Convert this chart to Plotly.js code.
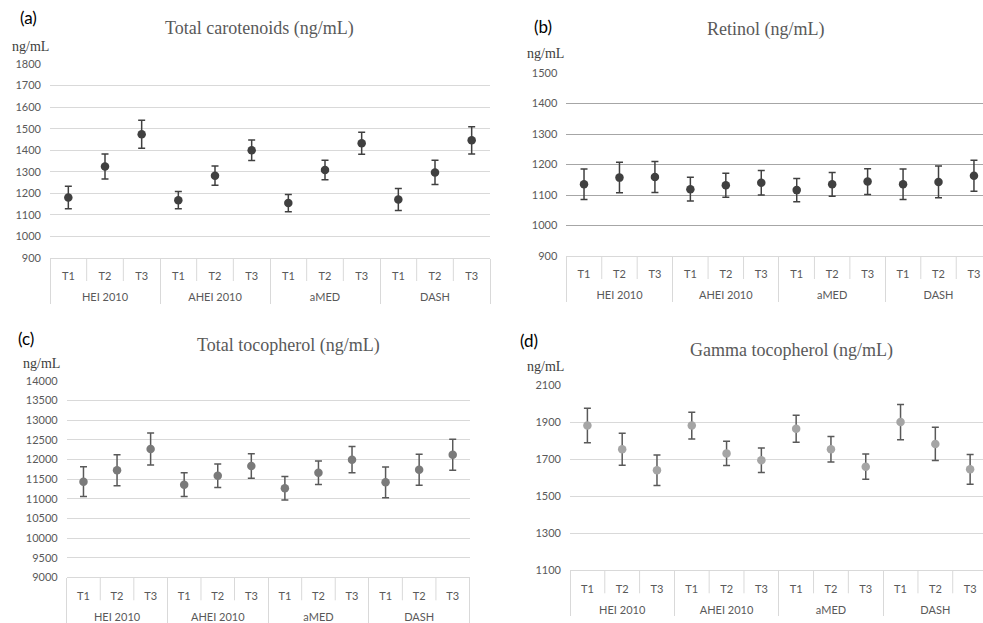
<!DOCTYPE html>
<html>
<head>
<meta charset="utf-8">
<script src="https://cdn.plot.ly/plotly-3.0.1.min.js"></script>
<style>html,body{margin:0;padding:0;background:#fff;}#chart{width:983px;height:623px;}</style>
</head>
<body>
<div id="chart"></div>
<script>
// ---- data ----
const groups = ["HEI 2010", "AHEI 2010", "aMED", "DASH"];
const tiers = ["T1", "T2", "T3"];

const carotenoidMean = [1181, 1324, 1474, 1168, 1282, 1400, 1155, 1308, 1432, 1171, 1297, 1446];
const carotenoidErr  = [52, 58, 65, 40, 45, 48, 40, 45, 51, 51, 56, 63];

const retinolMean = [1135, 1157, 1159, 1119, 1132, 1140, 1116, 1135, 1144, 1135, 1143, 1163];
const retinolErr  = [50, 50, 51, 39, 39, 40, 38, 39, 42, 50, 52, 51];

const tocopherolMean = [11436, 11725, 12268, 11360, 11589, 11835, 11267, 11665, 11997, 11419, 11742, 12124];
const tocopherolErr  = [378, 395, 405, 300, 300, 315, 300, 300, 335, 390, 395, 395];

const gammaMean = [1881, 1753, 1640, 1881, 1731, 1694, 1864, 1753, 1659, 1900, 1782, 1645];
const gammaErr  = [93, 86, 82, 72, 66, 66, 73, 69, 68, 95, 90, 80];

const panelTitles = ["Total carotenoids (ng/mL)", "Retinol (ng/mL)", "Total tocopherol (ng/mL)", "Gamma tocopherol (ng/mL)"];
const panelLetters = ["(a)", "(b)", "(c)", "(d)"];
const unitLabel = "ng/mL";

// ---- build ----
const W = 983, H = 623;
const nCat = groups.length * tiers.length;
const xGroup = [], xTier = [];
// a blank second line under each tier label gives the group row its spacing
groups.forEach(g => tiers.forEach(t => { xGroup.push(g); xTier.push(t + "<br>\u00a0"); }));

const panels = [
  {mean: carotenoidMean, err: carotenoidErr, color: "#404040", ecolor: "#404040",
   px: [50, 490], py: [64, 258], yr: [900, 1800], dtick: 100, grid: "#d9d9d9", xr: [-0.5, nCat - 0.5],
   title: [259, 29], unit: [31, 46], letter: [28, 17]},
  {mean: retinolMean, err: retinolErr, color: "#404040", ecolor: "#404040",
   px: [566.3, 983], py: [73, 256], yr: [900, 1500], dtick: 100, grid: "#a6a6a6", xr: [-0.5, 11.255],
   title: [765, 30], unit: [545, 53], letter: [543, 26]},
  {mean: tocopherolMean, err: tocopherolErr, color: "#7a7a7a", ecolor: "#595959",
   px: [66.7, 469.5], py: [381, 577.3], yr: [9000, 14000], dtick: 500, grid: "#d9d9d9", xr: [-0.5, nCat - 0.5],
   title: [288, 345], unit: [41, 363], letter: [26, 339]},
  {mean: gammaMean, err: gammaErr, color: "#a5a5a5", ecolor: "#595959",
   px: [570, 983], py: [385, 570.3], yr: [1100, 2100], dtick: 200, grid: "#d9d9d9", xr: [-0.5, 11.37],
   title: [791, 350], unit: [545, 367], letter: [529, 340]}
];

const data = [];
const layout = {
  width: W, height: H,
  margin: {l: 0, r: 0, t: 0, b: 0},
  paper_bgcolor: "#ffffff", plot_bgcolor: "#ffffff",
  showlegend: false, hovermode: false,
  annotations: [], shapes: []
};

panels.forEach((p, i) => {
  const n = i === 0 ? "" : String(i + 1);
  data.push({
    type: "scatter", mode: "markers",
    x: [xGroup, xTier], y: p.mean,
    xaxis: "x" + n, yaxis: "y" + n,
    marker: {color: p.color, size: 8.5},
    error_y: {type: "data", array: p.err, visible: true, color: p.ecolor, thickness: 1.5, width: 3.5}
  });
  layout["xaxis" + n] = {
    type: "multicategory",
    domain: [p.px[0] / W, p.px[1] / W],
    anchor: "y" + n,
    range: p.xr, autorange: false,
    showgrid: false, zeroline: false,
    showline: true, linecolor: "#d9d9d9", linewidth: 1,
    ticks: "",
    showdividers: true, dividercolor: "#d9d9d9", dividerwidth: 1,
    ticklabelstandoff: 8,
    tickfont: {family: "Lato, 'Liberation Sans', sans-serif", size: 11, color: "#595959"},
    fixedrange: true
  };
  layout["yaxis" + n] = {
    domain: [1 - p.py[1] / H, 1 - p.py[0] / H],
    anchor: "x" + n,
    range: p.yr, dtick: p.dtick, tick0: p.yr[0], tickformat: "d",
    showgrid: true, gridcolor: p.grid, gridwidth: 1,
    zeroline: false, showline: false, ticks: "",
    ticklabelstandoff: 8,
    tickfont: {family: "Lato, 'Liberation Sans', sans-serif", size: 11, color: "#595959"},
    fixedrange: true
  };

  // short separators between tiers inside each group (category boundaries)
  groups.forEach((g, gi) => {
    for (let k = 1; k < tiers.length; k++) {
      const b = gi * tiers.length + k - 0.5;
      layout.shapes.push({
        type: "line", xref: "x" + n, yref: "paper",
        x0: b, x1: b, y0: 1 - p.py[1] / H, y1: 1 - (p.py[1] + 23) / H,
        line: {color: "#d9d9d9", width: 1}
      });
    }
  });

  layout.annotations.push({
    text: panelTitles[i], xref: "paper", yref: "paper",
    x: p.title[0] / W, y: 1 - p.title[1] / H, xanchor: "center", yanchor: "middle",
    showarrow: false, font: {family: "'Liberation Serif', serif", size: 18, color: "#595959"}
  });
  layout.annotations.push({
    text: unitLabel, xref: "paper", yref: "paper",
    x: p.unit[0] / W, y: 1 - p.unit[1] / H, xanchor: "center", yanchor: "middle",
    showarrow: false, font: {family: "'Liberation Serif', serif", size: 14, color: "#404040"}
  });
  layout.annotations.push({
    text: panelLetters[i], xref: "paper", yref: "paper",
    x: p.letter[0] / W, y: 1 - p.letter[1] / H, xanchor: "center", yanchor: "middle",
    showarrow: false, font: {family: "Lato, 'Liberation Sans', sans-serif", size: 17, color: "#000000"}
  });
});

Plotly.newPlot("chart", data, layout, {displayModeBar: false, staticPlot: true});
</script>
</body>
</html>
